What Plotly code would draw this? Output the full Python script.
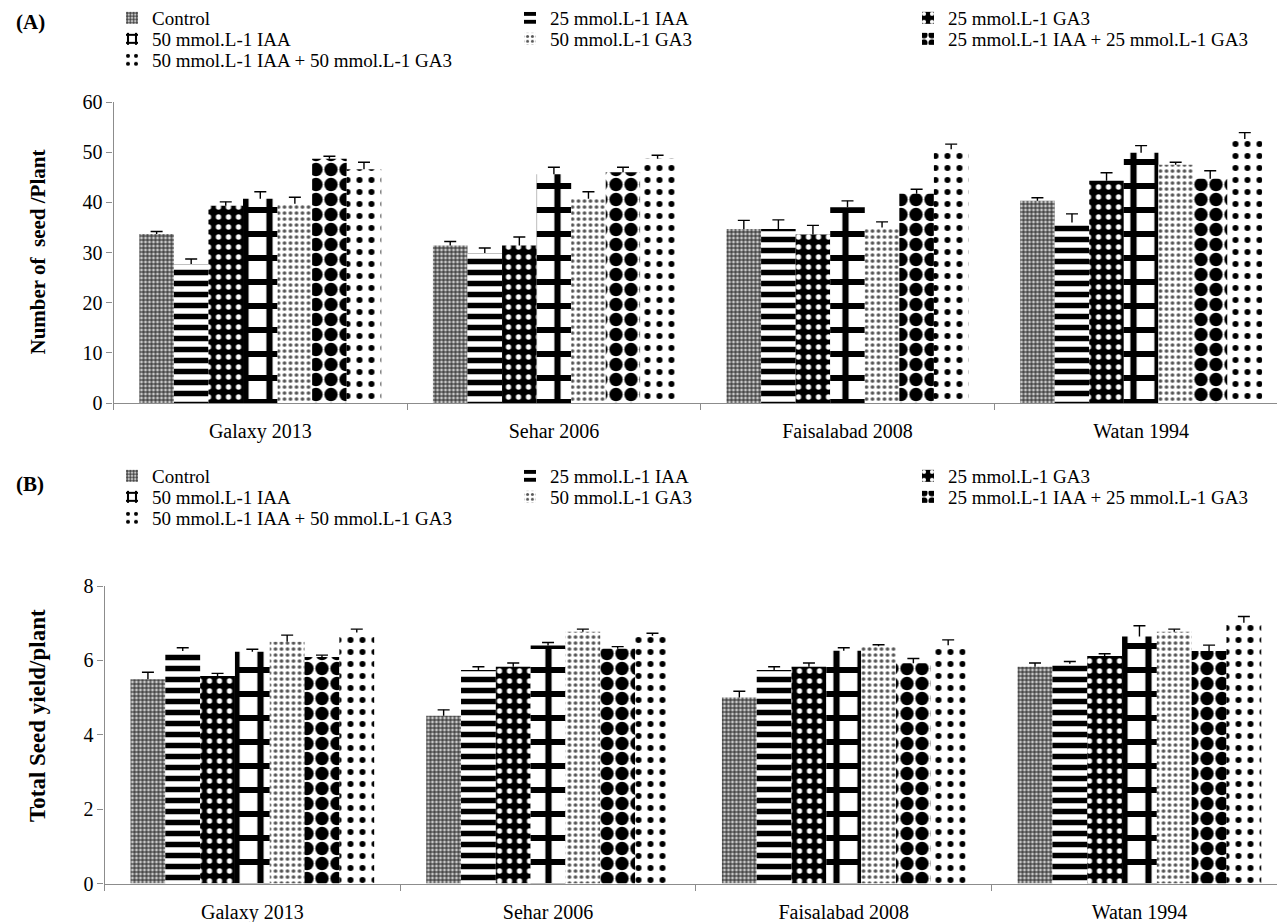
import plotly.graph_objects as go

# ---------------- data ----------------
cultivars = ["Galaxy 2013", "Sehar 2006", "Faisalabad 2008", "Watan 1994"]
treatments = [
    "Control",
    "25 mmol.L-1 IAA",
    "25 mmol.L-1 GA3",
    "50 mmol.L-1 IAA",
    "50 mmol.L-1 GA3",
    "25 mmol.L-1 IAA + 25 mmol.L-1 GA3",
    "50 mmol.L-1 IAA + 50 mmol.L-1 GA3",
]

# (A) number of seeds per plant, one list per treatment (cultivar order above)
seeds_control = [33.7, 31.4, 34.7, 40.3]
seeds_iaa25 = [27.7, 29.9, 34.7, 36.0]
seeds_ga25 = [39.3, 31.4, 33.6, 44.3]
seeds_iaa50 = [40.7, 45.6, 39.0, 49.9]
seeds_ga50 = [39.7, 40.7, 35.0, 47.5]
seeds_mix25 = [48.7, 46.0, 41.7, 44.7]
seeds_mix50 = [46.6, 48.7, 50.6, 52.6]

seeds_err_control = [0.5, 0.8, 1.7, 0.6]
seeds_err_iaa25 = [1.0, 1.0, 1.8, 1.7]
seeds_err_ga25 = [0.8, 1.7, 1.8, 1.6]
seeds_err_iaa50 = [1.4, 1.4, 1.3, 1.4]
seeds_err_ga50 = [1.3, 1.4, 1.1, 0.5]
seeds_err_mix25 = [0.5, 1.0, 0.9, 1.6]
seeds_err_mix50 = [1.4, 0.7, 1.0, 1.3]

# (B) total seed yield per plant
yield_control = [5.49, 4.51, 5.00, 5.83]
yield_iaa25 = [6.25, 5.74, 5.74, 5.91]
yield_ga25 = [5.58, 5.83, 5.83, 6.12]
yield_iaa50 = [6.23, 6.40, 6.26, 6.64]
yield_ga50 = [6.50, 6.77, 6.38, 6.77]
yield_mix25 = [6.09, 6.31, 5.92, 6.25]
yield_mix50 = [6.75, 6.66, 6.41, 7.01]

yield_err_control = [0.19, 0.16, 0.17, 0.10]
yield_err_iaa25 = [0.09, 0.09, 0.09, 0.06]
yield_err_ga25 = [0.07, 0.10, 0.10, 0.06]
yield_err_iaa50 = [0.07, 0.08, 0.08, 0.29]
yield_err_ga50 = [0.18, 0.07, 0.04, 0.07]
yield_err_mix25 = [0.05, 0.06, 0.13, 0.16]
yield_err_mix50 = [0.09, 0.07, 0.14, 0.17]

seeds = [seeds_control, seeds_iaa25, seeds_ga25, seeds_iaa50,
         seeds_ga50, seeds_mix25, seeds_mix50]
seeds_err = [seeds_err_control, seeds_err_iaa25, seeds_err_ga25, seeds_err_iaa50,
             seeds_err_ga50, seeds_err_mix25, seeds_err_mix50]
yields = [yield_control, yield_iaa25, yield_ga25, yield_iaa50,
          yield_ga50, yield_mix25, yield_mix50]
yields_err = [yield_err_control, yield_err_iaa25, yield_err_ga25, yield_err_iaa50,
              yield_err_ga50, yield_err_mix25, yield_err_mix50]

# ---------------- styling ----------------
W, H = 1277, 922
FONT = "Liberation Serif, Times New Roman, serif"
AXIS_GREY = "#8c8c8c"

# monochrome fill patterns, one per treatment
patterns = [
    dict(shape="+", size=4, solidity=0.5, fgcolor="#2a2a2a", bgcolor="#c8c8c8"),
    dict(shape="-", size=11, solidity=0.5, fgcolor="black", bgcolor="white"),
    dict(shape=".", size=10, solidity=0.22, fgcolor="white", bgcolor="black"),
    dict(shape="+", size=24, solidity=0.45, fgcolor="black", bgcolor="white"),
    dict(shape=".", size=6, solidity=0.3, fgcolor="#555555", bgcolor="white"),
    dict(shape=".", size=15, solidity=0.62, fgcolor="black", bgcolor="white"),
    dict(shape=".", size=12, solidity=0.2, fgcolor="black", bgcolor="white"),
]
for p in patterns:
    p["fgopacity"] = 1
    p["fillmode"] = "replace"

# legend rows: three entries per row
row_of = [0, 0, 0, 1, 1, 1, 2]


def px_x(x):
    return x / W


def px_y(y):
    return 1 - y / H


fig = go.Figure()


def add_panel(values, errors, xa, ya, legend_base):
    for i, name in enumerate(treatments):
        # bar with the upper error stem
        fig.add_trace(go.Bar(
            x=cultivars, y=values[i], name=name, offsetgroup=str(i),
            marker=dict(color="white", pattern=patterns[i], line=dict(width=0)),
            error_y=dict(type="data", array=errors[i], symmetric=False,
                         arrayminus=[0] * len(cultivars),
                         color="black", thickness=1.4, width=0),
            xaxis=xa, yaxis=ya,
            legend="legend" if legend_base + row_of[i] == 1
            else f"legend{legend_base + row_of[i]}",
        ))
    for i, name in enumerate(treatments):
        # cap on top of each error stem
        tops = [v + e for v, e in zip(values[i], errors[i])]
        fig.add_trace(go.Bar(
            x=cultivars, y=tops, name=name, offsetgroup=str(i),
            marker=dict(color="rgba(0,0,0,0)", line=dict(width=0)),
            error_y=dict(type="data", array=[0] * len(cultivars),
                         color="black", thickness=1.4, width=6),
            xaxis=xa, yaxis=ya, showlegend=False, hoverinfo="skip",
        ))


add_panel(seeds, seeds_err, "x", "y", 1)
add_panel(yields, yields_err, "x2", "y2", 4)

# plot-area geometry (pixels)
a_left, a_cat, a_top, a_bottom = 113.5, 293.6, 102, 403
b_left, b_cat, b_top, b_bottom = 104.5, 295.7, 586, 883.5

xcommon = dict(
    type="category", tickson="boundaries", ticks="outside", ticklen=6,
    tickcolor=AXIS_GREY, showline=True, linecolor=AXIS_GREY, linewidth=1.2,
    showgrid=False, zeroline=False,
    tickfont=dict(size=20, color="black", family=FONT),
    ticklabelstandoff=10,
)
ycommon = dict(
    ticks="outside", ticklen=6, tickcolor=AXIS_GREY, showline=True,
    linecolor=AXIS_GREY, linewidth=1.2, showgrid=False, zeroline=False,
    tickfont=dict(size=20, color="black", family=FONT),
)

legend_rows_a = [18, 39, 60]
legend_rows_b = [476, 497, 518]
legend_common = dict(
    orientation="h", x=px_x(112), xanchor="left", yanchor="middle",
    entrywidth=353, entrywidthmode="pixels", bgcolor="rgba(0,0,0,0)",
    font=dict(size=19, color="black", family=FONT), traceorder="normal",
    borderwidth=0,
)

layout_legends = {}
for k, yrow in enumerate(legend_rows_a + legend_rows_b):
    key = "legend" if k == 0 else f"legend{k + 1}"
    layout_legends[key] = dict(legend_common, y=px_y(yrow))

fig.update_layout(
    width=W, height=H,
    margin=dict(l=0, r=0, t=0, b=0, autoexpand=False),
    paper_bgcolor="white", plot_bgcolor="white",
    font=dict(family=FONT, color="black", size=20),
    barmode="group", bargap=0.176, bargroupgap=0,
    xaxis=dict(xcommon, domain=[px_x(a_left), 1], anchor="y",
               range=[-0.5, -0.5 + (W - a_left) / a_cat]),
    yaxis=dict(ycommon, domain=[px_y(a_bottom), px_y(a_top)], anchor="x",
               range=[0, 60], dtick=10),
    xaxis2=dict(xcommon, domain=[px_x(b_left), 1], anchor="y2",
                range=[-0.5, -0.5 + (W - b_left) / b_cat]),
    yaxis2=dict(ycommon, domain=[px_y(b_bottom), px_y(b_top)], anchor="x2",
                range=[0, 8], dtick=2),
    showlegend=True,
    **layout_legends,
)

annotations = [
    dict(text="<b>(A)</b>", x=px_x(30), y=px_y(22), size=21),
    dict(text="<b>(B)</b>", x=px_x(30), y=px_y(484), size=21),
    dict(text="<b>Number of  seed /Plant</b>", x=px_x(37),
         y=px_y((a_top + a_bottom) / 2), textangle=-90, size=21),
    dict(text="<b>Total Seed yield/plant</b>", x=px_x(37),
         y=px_y(716), textangle=-90, size=23),
]
for ann in annotations:
    size = ann.pop("size")
    fig.add_annotation(xref="paper", yref="paper", showarrow=False,
                       xanchor="center", yanchor="middle",
                       font=dict(size=size, color="black", family=FONT), **ann)

fig.write_html("out.html")
